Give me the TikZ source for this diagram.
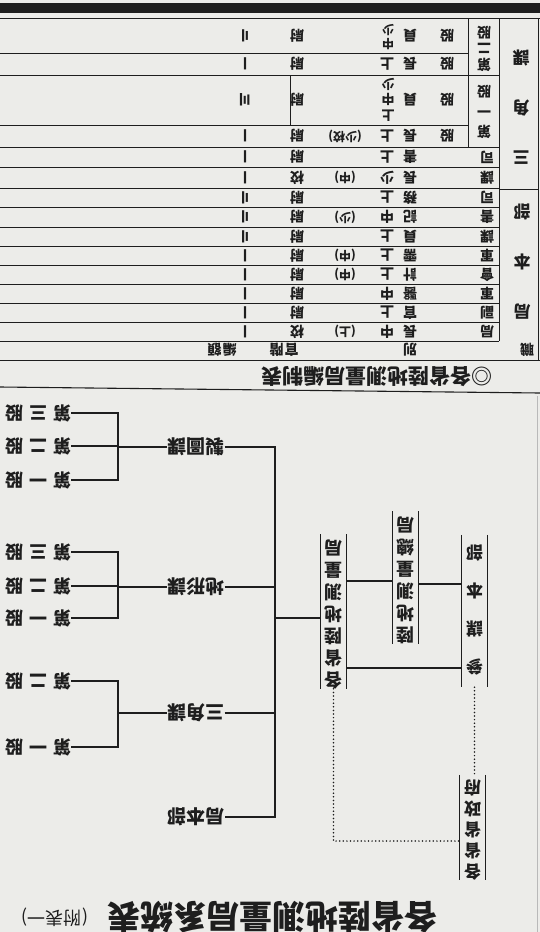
\documentclass[tikz,border=0pt]{standalone}
\usepackage{fontspec}
\usepackage{graphicx}
\setmainfont{Noto Sans CJK TC}
\usetikzlibrary{calc}
\definecolor{paper}{RGB}{236,236,233}
\definecolor{ink}{RGB}{30,30,30}
\newcommand\RT[1]{\rotatebox[origin=c]{180}{#1}}
\newcommand\VT[3]{{\fontsize{#1}{#2}\selectfont\rotatebox[origin=c]{180}{\begin{tabular}{@{}c@{}}#3\end{tabular}}}}
\newcommand\fs[1]{\fontsize{#1}{#1}\selectfont}
\begin{document}
\begin{tikzpicture}[x=1pt,y=-1pt,
  ln/.style={draw=ink,line width=1.1pt},
  tln/.style={draw=ink,line width=0.8pt},
  dl/.style={draw=ink,line width=1.7pt,line cap=round,dash pattern=on 0pt off 3.6pt},
  lbl/.style={inner sep=0pt,text=ink},
  cell/.style={lbl,font=\fs{14}\bfseries},
  alt/.style={lbl,font=\fs{12}\bfseries},
  gu/.style={lbl,font=\fs{18}\bfseries},
  ke/.style={lbl,font=\fs{19}\bfseries},
  vbox/.style={inner sep=0pt,text=ink,minimum width=25pt,font=\bfseries}]
\fill[paper] (0,0) rectangle (540,932);
\useasboundingbox (0,0) rectangle (540,932);
% ---------------- top table ----------------
\fill[ink] (0,3) rectangle (540,13);
\foreach \y/\xe in {18/540,53/468,75/499,125/468,147/499,167/499,188/499,207/499,227/499,246/499,265/499,284/499,303/499,322/499,341/499,360/540}
  \draw[tln] (0,\y) -- (\xe,\y);
\draw[tln] (499,18) -- (499,341);
\draw[tln] (468,18) -- (468,147);
\draw[tln] (290,75) -- (290,125);
\draw[tln] (499,189) -- (538,189);
\draw[tln] (538,18) -- (538,360);
% header column
\node[lbl,font=\bfseries] (hA1) at (521,111) {\VT{17}{50}{三\\角\\課}};
\node[lbl,font=\bfseries] (hA2) at (522,265) {\VT{17}{50}{局\\本\\部}};
\node[cell] (h1) at (527,350) {\RT{職}};
\node[cell] (h2) at (410,350) {\RT{別}};
\node[cell] (h3) at (284,350) {\RT{官\hspace{1pt}階}};
\node[cell] (h4) at (222,350) {\RT{編\hspace{1pt}額}};
\node[lbl,font=\bfseries] (g2) at (484,47) {\VT{14}{16}{第\\二\\股}};
\node[lbl,font=\bfseries] (g1) at (484,110) {\VT{14}{20}{第\\一\\股}};
% row 1
\node[cell] (r1b) at (447,35.5) {\RT{股}};
\node[cell] (r1c) at (410,35.5) {\RT{員}};
\node[lbl,font=\bfseries] (r1d) at (388,36) {\VT{12}{13}{中\\少}};
\node[cell] (r1f) at (297,35.5) {\RT{尉}};
\node[cell] (r1g) at (245,35.5) {\RT{〢}};
% row 2
\node[cell] (r2b) at (447,64) {\RT{股}};
\node[cell] (r2c) at (410,64) {\RT{長}};
\node[cell] (r2d) at (387,64) {\RT{上}};
\node[cell] (r2f) at (297,64) {\RT{尉}};
\node[cell] (r2g) at (245,64) {\RT{〡}};
% row 3
\node[cell] (r3b) at (447,100) {\RT{股}};
\node[cell] (r3c) at (410,100) {\RT{員}};
\node[lbl,font=\bfseries] (r3d) at (388,98) {\VT{13}{15}{上\\中\\少}};
\node[cell] (r3f) at (297,100) {\RT{尉}};
\node[cell] (r3g) at (245,100) {\RT{〣}};
% row 4
\node[cell] (r4b) at (447,136) {\RT{股}};
\node[cell] (r4c) at (410,136) {\RT{長}};
\node[cell] (r4d) at (387,136) {\RT{上}};
\node[alt] (r4e) at (345,136) {\RT{(少校)}};
\node[cell] (r4f) at (297,136) {\RT{尉}};
\node[cell] (r4g) at (245,136) {\RT{〡}};
% rows 5..14
\node[cell] (r5b) at (487,157) {\RT{司}};
\node[cell] (r5c) at (410,157) {\RT{書}};
\node[cell] (r5d) at (387,157) {\RT{上}};
\node[cell] (r5f) at (297,157) {\RT{尉}};
\node[cell] (r5g) at (245,157) {\RT{〡}};
\node[cell] (r6b) at (487,177.5) {\RT{課}};
\node[cell] (r6c) at (410,177.5) {\RT{長}};
\node[cell] (r6d) at (387,177.5) {\RT{少}};
\node[alt] (r6e) at (345,177.5) {\RT{(中)}};
\node[cell] (r6f) at (297,177.5) {\RT{校}};
\node[cell] (r6g) at (245,177.5) {\RT{〡}};
\node[cell] (r7b) at (487,197.5) {\RT{司}};
\node[cell] (r7c) at (410,197.5) {\RT{務}};
\node[cell] (r7d) at (387,197.5) {\RT{上}};
\node[cell] (r7f) at (297,197.5) {\RT{尉}};
\node[cell] (r7g) at (245,197.5) {\RT{〢}};
\node[cell] (r8b) at (487,217) {\RT{書}};
\node[cell] (r8c) at (410,217) {\RT{記}};
\node[cell] (r8d) at (387,217) {\RT{中}};
\node[alt] (r8e) at (345,217) {\RT{(少)}};
\node[cell] (r8f) at (297,217) {\RT{尉}};
\node[cell] (r8g) at (245,217) {\RT{〢}};
\node[cell] (r9b) at (487,236.5) {\RT{課}};
\node[cell] (r9c) at (410,236.5) {\RT{員}};
\node[cell] (r9d) at (387,236.5) {\RT{上}};
\node[cell] (r9f) at (297,236.5) {\RT{尉}};
\node[cell] (r9g) at (245,236.5) {\RT{〢}};
\node[cell] (r10b) at (487,255.5) {\RT{軍}};
\node[cell] (r10c) at (410,255.5) {\RT{需}};
\node[cell] (r10d) at (387,255.5) {\RT{上}};
\node[alt] (r10e) at (345,255.5) {\RT{(中)}};
\node[cell] (r10f) at (297,255.5) {\RT{尉}};
\node[cell] (r10g) at (245,255.5) {\RT{〡}};
\node[cell] (r11b) at (487,274.5) {\RT{會}};
\node[cell] (r11c) at (410,274.5) {\RT{計}};
\node[cell] (r11d) at (387,274.5) {\RT{上}};
\node[alt] (r11e) at (345,274.5) {\RT{(中)}};
\node[cell] (r11f) at (297,274.5) {\RT{尉}};
\node[cell] (r11g) at (245,274.5) {\RT{〡}};
\node[cell] (r12b) at (487,293.5) {\RT{軍}};
\node[cell] (r12c) at (410,293.5) {\RT{醫}};
\node[cell] (r12d) at (387,293.5) {\RT{中}};
\node[cell] (r12f) at (297,293.5) {\RT{尉}};
\node[cell] (r12g) at (245,293.5) {\RT{〡}};
\node[cell] (r13b) at (487,312.5) {\RT{副}};
\node[cell] (r13c) at (410,312.5) {\RT{官}};
\node[cell] (r13d) at (387,312.5) {\RT{上}};
\node[cell] (r13f) at (297,312.5) {\RT{尉}};
\node[cell] (r13g) at (245,312.5) {\RT{〡}};
\node[cell] (r14b) at (487,331.5) {\RT{局}};
\node[cell] (r14c) at (410,331.5) {\RT{長}};
\node[cell] (r14d) at (387,331.5) {\RT{中}};
\node[alt] (r14e) at (345,331.5) {\RT{(上)}};
\node[cell] (r14f) at (297,331.5) {\RT{校}};
\node[cell] (r14g) at (245,331.5) {\RT{〡}};
% heading and separator
\node[lbl,font=\fs{21}\bfseries] (hd) at (377,377) {\RT{◎各省陸地測量局編制表}};
\draw[ln] (0,387) -- (540,393);
\draw[draw=gray!55,line width=0.6pt] (537,396) -- (537,932);
% ---------------- chart ----------------
\coordinate (tr) at (275,0);
\coordinate (bx) at (118,0);
\coordinate (ya) at (0,618);
\coordinate (yb) at (0,581);
\coordinate (yc) at (0,584);
\coordinate (yd) at (0,668);
\coordinate (ye) at (0,841);
\node[ke] (zt) at (196,447) {\RT{製圖課}};
\node[ke] (dx) at (196,587) {\RT{地形課}};
\node[ke] (sj) at (196,713) {\RT{三角課}};
\node[ke] (jb) at (196,817) {\RT{局本部}};
\node[gu] (z3) at (38,413) {\RT{第\hspace{6pt}三\hspace{6pt}股}};
\node[gu] (z2) at (38,446) {\RT{第\hspace{6pt}二\hspace{6pt}股}};
\node[gu] (z1) at (38,480) {\RT{第\hspace{6pt}一\hspace{6pt}股}};
\node[gu] (d3) at (38,552) {\RT{第\hspace{6pt}三\hspace{6pt}股}};
\node[gu] (d2) at (38,586) {\RT{第\hspace{6pt}二\hspace{6pt}股}};
\node[gu] (d1) at (38,618) {\RT{第\hspace{6pt}一\hspace{6pt}股}};
\node[gu] (s2) at (38,681) {\RT{第\hspace{6pt}二\hspace{6pt}股}};
\node[gu] (s1) at (38,747) {\RT{第\hspace{6pt}一\hspace{6pt}股}};
\node[vbox] (gs) at (333.5,611.5) {\VT{18}{22}{各\\省\\陸\\地\\測\\量\\局}};
\node[vbox] (zj) at (405.5,577.5) {\VT{18}{22}{陸\\地\\測\\量\\總\\局}};
\node[vbox] (cb) at (474.5,611) {\VT{17}{38}{參\\謀\\本\\部}};
\node[vbox] (sz) at (472.5,827.5) {\VT{17}{21}{各\\省\\省\\政\\府}};
\foreach \n in {gs,zj,cb,sz}
  \draw[ln] (\n.north west) -- (\n.south west) (\n.north east) -- (\n.south east);
% trunk and branches
\draw[ln] (zt.east) -| (tr |- jb.east) -- (jb.east);
\draw[ln] (dx.east) -- (dx.east -| tr);
\draw[ln] (sj.east) -- (sj.east -| tr);
\draw[ln] (gs.west |- ya) -- (tr |- ya);
\draw[ln] (gs.east |- yb) -- (zj.west |- yb);
\draw[ln] (zj.east |- yc) -- (cb.west |- yc);
\draw[ln] (gs.east |- yd) -- (cb.west |- yd);
\draw[dl] (cb.south) -- (cb.south |- sz.north);
\draw[dl] (gs.south) |- (sz.west |- ye);
% brackets
\draw[ln] (zt.west) -- (zt.west -| bx);
\draw[ln] (z3.east) -| (bx |- z1.east) -- (z1.east);
\draw[ln] (z2.east) -- (z2.east -| bx);
\draw[ln] (dx.west) -- (dx.west -| bx);
\draw[ln] (d3.east) -| (bx |- d1.east) -- (d1.east);
\draw[ln] (d2.east) -- (d2.east -| bx);
\draw[ln] (sj.west) -- (sj.west -| bx);
\draw[ln] (s2.east) -| (bx |- s1.east) -- (s1.east);
% title
\node[lbl,font=\fs{33}\bfseries] (tt) at (272,917) {\RT{各省陸地測量局系統表}};
\node[lbl,font=\fs{18}] (tt2) at (55,917) {\RT{(附表一)}};
\end{tikzpicture}
\end{document}
